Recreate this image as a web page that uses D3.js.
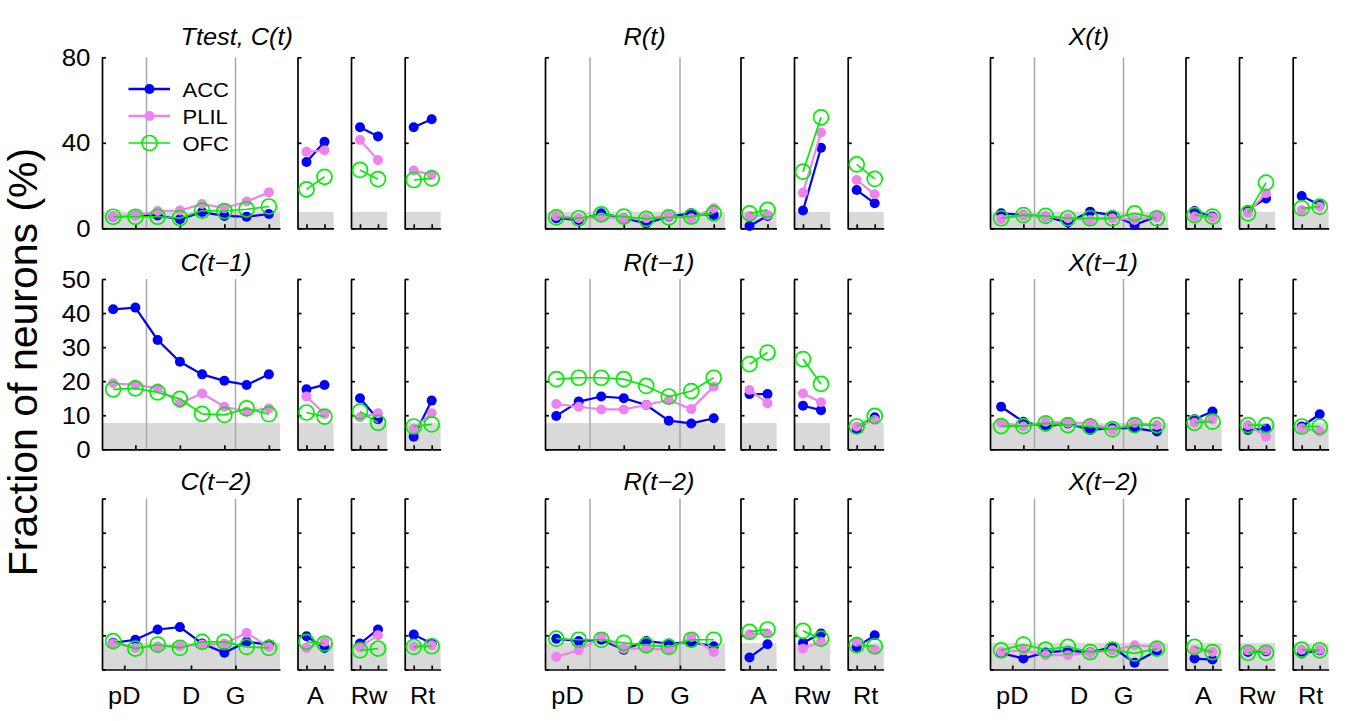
<!DOCTYPE html>
<html><head><meta charset="utf-8">
<script src="https://cdn.jsdelivr.net/npm/d3@7"></script>
<style>
body{margin:0;background:#fff;}
svg{display:block;}
text{font-family:"Liberation Sans",Arial,Helvetica,sans-serif;fill:#000;}
</style>
</head><body>
<svg id="chart" width="1354" height="721"></svg>
<script>
// ---------- DATA (each: 8 task-epoch bins, then A1,A2, Rw1,Rw2, Rt1,Rt2) ----------
const ACC_Ct   = [5.5, 6.0, 6.0, 4.2, 7.6, 5.8, 5.4, 6.7, 31.0, 40.5, 47.3, 43.0, 47.3, 51.0];
const PLIL_Ct  = [5.7, 5.9, 8.1, 8.3, 11.4, 9.4, 12.5, 16.8, 35.8, 36.5, 41.3, 31.9, 27.0, 25.0];
const OFC_Ct   = [5.4, 5.4, 5.4, 4.8, 8.3, 8.1, 8.9, 10.2, 18.2, 24.1, 27.3, 23.0, 22.6, 23.4];

const ACC_Ct1  = [41.1, 41.6, 32.1, 25.7, 22.0, 20.1, 18.9, 22.0, 17.6, 18.9, 15.0, 8.8, 3.7, 14.3];
const PLIL_Ct1 = [19.4, 18.9, 17.9, 13.5, 16.4, 12.5, 11.1, 12.0, 15.5, 10.4, 9.4, 10.6, 6.0, 10.6];
const OFC_Ct1  = [17.6, 17.9, 16.7, 14.8, 10.4, 10.1, 12.0, 10.3, 10.8, 9.6, 11.1, 7.8, 6.7, 7.3];

const ACC_Ct2  = [7.8, 8.7, 11.7, 12.4, 7.6, 4.9, 8.1, 7.3, 9.7, 6.3, 7.6, 11.7, 10.2, 7.6];
const PLIL_Ct2 = [7.6, 6.3, 6.8, 6.8, 7.3, 7.6, 10.7, 6.6, 6.3, 8.1, 6.6, 10.0, 6.8, 7.1];
const OFC_Ct2  = [8.3, 6.1, 7.3, 6.3, 8.1, 8.1, 6.6, 6.3, 8.1, 7.6, 5.6, 6.1, 6.6, 6.8];

const ACC_Rt   = [4.7, 3.9, 7.0, 4.7, 2.3, 5.5, 7.0, 6.2, 1.1, 5.8, 8.3, 37.7, 17.9, 11.7];
const PLIL_Rt  = [5.8, 4.7, 5.1, 4.7, 4.7, 5.8, 4.7, 9.4, 5.8, 6.2, 16.7, 44.8, 22.6, 15.9];
const OFC_Rt   = [5.1, 4.7, 6.5, 5.5, 4.4, 5.1, 5.5, 7.0, 7.0, 8.6, 26.5, 51.9, 29.9, 23.1];

const ACC_Rt1  = [9.8, 14.0, 15.5, 15.0, 13.0, 8.4, 7.6, 9.1, 16.2, 16.2, 12.8, 11.5, 5.9, 9.4];
const PLIL_Rt1 = [13.3, 12.5, 11.7, 11.7, 13.0, 14.5, 11.8, 18.4, 17.4, 13.5, 16.4, 13.8, 6.7, 8.6];
const OFC_Rt1  = [20.6, 21.0, 21.0, 20.6, 18.6, 15.5, 17.1, 21.0, 25.0, 28.4, 26.5, 19.2, 6.7, 9.8];

const ACC_Rt2  = [9.0, 8.3, 8.7, 5.8, 8.3, 7.6, 8.0, 6.8, 3.5, 7.4, 7.8, 10.5, 6.6, 10.0];
const PLIL_Rt2 = [3.7, 5.6, 9.5, 6.1, 6.1, 5.8, 9.5, 5.1, 10.3, 10.5, 6.1, 8.1, 8.1, 5.8];
const OFC_Rt2  = [9.0, 8.7, 8.7, 7.8, 7.1, 6.6, 8.7, 8.7, 11.0, 11.7, 11.3, 9.0, 7.1, 6.8];

const ACC_Xt   = [7.0, 6.2, 5.5, 2.7, 7.8, 6.2, 1.6, 5.5, 8.1, 5.5, 8.6, 14.0, 15.1, 10.9];
const PLIL_Xt  = [4.4, 6.2, 5.5, 4.7, 3.9, 4.7, 3.9, 5.5, 5.5, 5.1, 7.3, 16.4, 8.6, 10.1];
const OFC_Xt   = [4.7, 6.2, 5.8, 4.7, 4.7, 4.7, 7.0, 4.7, 6.2, 5.5, 7.0, 21.4, 9.4, 10.1];

const ACC_Xt1  = [12.5, 8.1, 6.7, 7.6, 5.7, 6.2, 6.2, 5.2, 8.8, 11.1, 5.7, 6.0, 6.7, 10.3];
const PLIL_Xt1 = [7.8, 6.7, 8.1, 7.8, 7.8, 5.7, 7.8, 7.1, 7.8, 8.8, 7.1, 3.7, 6.2, 5.2];
const OFC_Xt1  = [6.8, 6.8, 7.6, 7.1, 6.7, 5.9, 7.1, 7.1, 7.8, 8.1, 7.1, 7.1, 6.7, 6.7];

const ACC_Xt2  = [4.8, 3.2, 5.0, 5.5, 5.0, 6.5, 2.0, 5.5, 3.2, 2.9, 5.1, 5.3, 4.7, 5.6];
const PLIL_Xt2 = [5.1, 5.6, 4.2, 4.2, 4.9, 5.6, 7.1, 6.6, 5.6, 5.1, 5.6, 5.6, 5.8, 5.8];
const OFC_Xt2  = [5.6, 7.3, 5.8, 6.6, 5.1, 5.8, 4.7, 6.1, 6.6, 5.1, 4.9, 4.9, 5.8, 5.6];

const seriesNames = ["ACC", "PLIL", "OFC"];
const panelTitles = [["Ttest, C(t)", "R(t)", "X(t)"],
                     ["C(t\u22121)", "R(t\u22121)", "X(t\u22121)"],
                     ["C(t\u22122)", "R(t\u22122)", "X(t\u22122)"]];
const yMaxByRow = [80, 50, 50];
const yTicksByRow = [[0, 40, 80], [0, 10, 20, 30, 40, 50], [0, 10, 20, 30, 40, 50]];
const yTickLabelRows = [true, true, false];
const mainTicksByRow = [[2, 4, 6, 8], [2, 4, 6, 8], [1.5, 4.5, 6.5]];
const epochLabels = ["pD", "D", "G"];
const epochLabelPos = [1.5, 4.5, 6.5];
const epochBoundaries = [2.5, 6.5];
const smallLabels = ["A", "Rw", "Rt"];
const chanceLevel = 7.7;

// ---------- STYLE / LAYOUT ----------
const colors = ["#0000ff", "#ee82ee", "#00ee00"];
const rowTop = [57.3, 279, 498.5], rowBottom = [228.3, 449.3, 669.5];
const colLeft = [102, 545, 990], colMainW = [178, 180, 178];
const smallOff = [195.5, 249, 302.7], smallW = 36;
const SX = 1.1; // horizontal glyph stretch of the original

const panelData = [
  [[ACC_Ct, PLIL_Ct, OFC_Ct], [ACC_Rt, PLIL_Rt, OFC_Rt], [ACC_Xt, PLIL_Xt, OFC_Xt]],
  [[ACC_Ct1, PLIL_Ct1, OFC_Ct1], [ACC_Rt1, PLIL_Rt1, OFC_Rt1], [ACC_Xt1, PLIL_Xt1, OFC_Xt1]],
  [[ACC_Ct2, PLIL_Ct2, OFC_Ct2], [ACC_Rt2, PLIL_Rt2, OFC_Rt2], [ACC_Xt2, PLIL_Xt2, OFC_Xt2]]
];

const svg = d3.select("#chart");

function sText(g, x, y, str, size, anchor, italic) {
  return g.append("text")
    .attr("transform", `translate(${x},${y}) scale(${SX},1)`)
    .attr("text-anchor", anchor)
    .style("font-size", size + "px")
    .style("font-style", italic ? "italic" : "normal")
    .text(str);
}

function drawPanel(g, x, y, xTicks, yTicks, xs, seriesVals, boundaries) {
  const [x0, x1] = x.range();
  g.append("rect").attr("x", x0).attr("width", x1 - x0)
    .attr("y", y(chanceLevel)).attr("height", y(0) - y(chanceLevel))
    .attr("fill", "#d9d9d9");
  boundaries.forEach(b => {
    g.append("line").attr("x1", x(b)).attr("x2", x(b))
      .attr("y1", y.range()[1]).attr("y2", y.range()[0])
      .attr("stroke", "#a9a9a9").attr("stroke-width", 1.5);
  });
  const ya = g.append("g").attr("transform", `translate(${x0},0)`)
    .call(d3.axisLeft(y).tickValues(yTicks).tickSize(-4).tickSizeOuter(0).tickFormat(""));
  const xa = g.append("g").attr("transform", `translate(0,${y(0)})`)
    .call(d3.axisBottom(x).tickValues(xTicks).tickSize(-4).tickSizeOuter(0).tickFormat(""));
  [ya, xa].forEach(a => {
    a.selectAll("path,line").attr("stroke", "#000").attr("stroke-width", 1.7);
  });
  const line = d3.line().x(d => x(d[0])).y(d => y(d[1]));
  seriesVals.forEach((vals, s) => {
    const pts = vals.map((v, i) => [xs[i], v]);
    g.append("path").attr("d", line(pts)).attr("fill", "none")
      .attr("stroke", colors[s]).attr("stroke-width", s === 2 ? 1.7 : 2.2);
    pts.forEach(p => {
      if (s === 2) {
        g.append("circle").attr("cx", x(p[0])).attr("cy", y(p[1])).attr("r", 7.5)
          .attr("fill", "none").attr("stroke", colors[s]).attr("stroke-width", 1.7);
      } else {
        g.append("circle").attr("cx", x(p[0])).attr("cy", y(p[1])).attr("r", 5)
          .attr("fill", colors[s]);
      }
    });
  });
}

for (let r = 0; r < 3; r++) {
  const y = d3.scaleLinear().domain([0, yMaxByRow[r]]).range([rowBottom[r], rowTop[r]]);
  for (let c = 0; c < 3; c++) {
    const g = svg.append("g");
    const left = colLeft[c];
    const data = panelData[r][c];
    const xm = d3.scaleLinear().domain([0.5, 8.5]).range([left, left + colMainW[c]]);
    drawPanel(g, xm, y, mainTicksByRow[r], yTicksByRow[r], d3.range(1, 9),
      data.map(v => v.slice(0, 8)), epochBoundaries);
    for (let k = 0; k < 3; k++) {
      const xsmall = d3.scaleLinear().domain([0.5, 2.5])
        .range([left + smallOff[k], left + smallOff[k] + smallW]);
      drawPanel(g, xsmall, y, [1, 2], yTicksByRow[r], [1, 2],
        data.map(v => v.slice(8 + 2 * k, 10 + 2 * k)), []);
      if (r === 2) sText(g, xsmall(1.5), 703.5, smallLabels[k], 23, "middle", false);
    }
    const titleBase = [45, 270.5, 489.5][r];
    sText(g, left + 78.5, titleBase, panelTitles[r][c], 23, "start", true);
    if (c === 0 && yTickLabelRows[r]) {
      yTicksByRow[r].forEach(t => sText(g, left - 11.5, y(t) + 8.5, String(t), 23.5, "end", false));
    }
    if (r === 2) {
      epochLabels.forEach((lab, i) => sText(g, xm(epochLabelPos[i]), 703.5, lab, 23, "middle", false));
    }
  }
}

const leg = svg.append("g");
const legY = [89, 116, 143];
seriesNames.forEach((name, s) => {
  leg.append("line").attr("x1", 128.5).attr("x2", 170).attr("y1", legY[s]).attr("y2", legY[s])
    .attr("stroke", colors[s]).attr("stroke-width", s === 2 ? 1.7 : 2.6);
  if (s === 2) {
    leg.append("circle").attr("cx", 149.5).attr("cy", legY[s]).attr("r", 7.5)
      .attr("fill", "none").attr("stroke", colors[s]).attr("stroke-width", 1.7);
  } else {
    leg.append("circle").attr("cx", 149.5).attr("cy", legY[s]).attr("r", 5).attr("fill", colors[s]);
  }
  sText(leg, 182.5, legY[s] + 7.5, name, 20, "start", false);
});

svg.append("text")
  .attr("transform", "translate(36.5,362) rotate(-90)")
  .attr("text-anchor", "middle")
  .style("font-size", "41px")
  .text("Fraction of neurons (%)");
</script>
</body></html>
